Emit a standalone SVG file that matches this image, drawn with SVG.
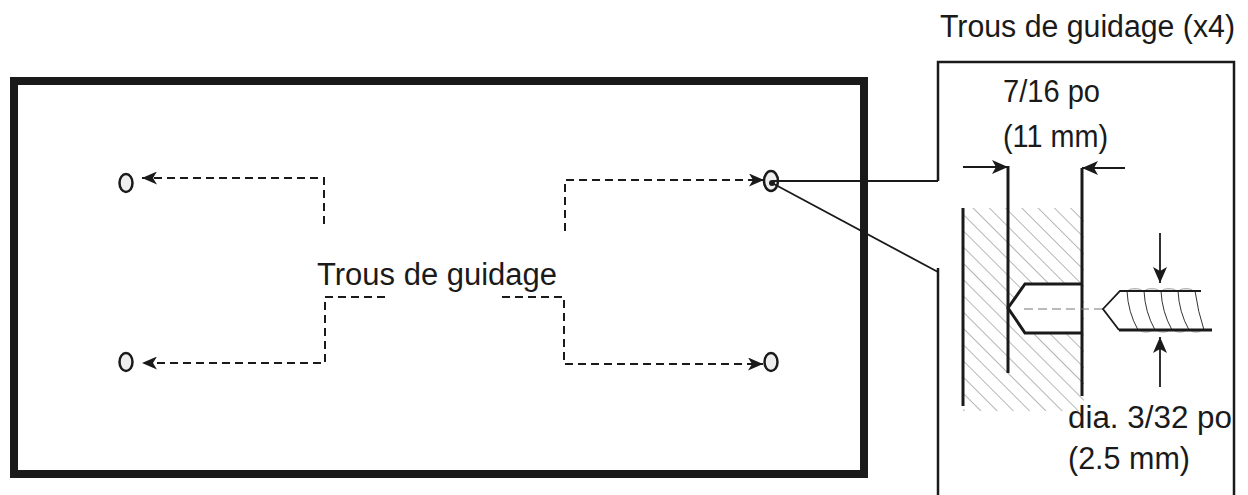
<svg xmlns="http://www.w3.org/2000/svg" width="1248" height="495" viewBox="0 0 1248 495">
<style>
  .txt { font-family: "Liberation Sans", Arial, sans-serif; font-size: 31px; fill: #1a1a1a; }
  .dash { fill: none; stroke: #1a1a1a; stroke-width: 2; stroke-dasharray: 8 5; }
  .hole { fill: #eeeeee; stroke: #1a1a1a; stroke-width: 2.5; }
  .thin { fill: none; stroke: #1a1a1a; stroke-width: 1.8; }
  .panel { fill: none; stroke: #1a1a1a; stroke-width: 2.5; }
  .thick { fill: none; stroke: #1a1a1a; stroke-width: 3; }
  .thread { fill: none; stroke: #333; stroke-width: 1; }
  .bump { fill: #e2e2e2; stroke: #999; stroke-width: 0.7; }
</style>
<defs>
  <marker id="arr" markerUnits="userSpaceOnUse" markerWidth="15" markerHeight="13" viewBox="0 0 15 13" refX="15" refY="6.5" orient="auto">
    <path d="M0,0 L15,6.5 L0,13 L4,6.5 z" fill="#1a1a1a"/>
  </marker>
  <marker id="arrBig" markerUnits="userSpaceOnUse" markerWidth="16" markerHeight="14" viewBox="0 0 16 14" refX="16" refY="7" orient="auto">
    <path d="M0,0 L16,7 L0,14 L4,7 z" fill="#1a1a1a"/>
  </marker>
  <pattern id="hatch" patternUnits="userSpaceOnUse" width="11.5" height="11.5" patternTransform="rotate(-45)">
    <line x1="0" y1="0" x2="0" y2="11.5" stroke="#7a7a7a" stroke-width="1.1"/>
  </pattern>
</defs>

<!-- main board -->
<g id="board">
  <rect x="14" y="81" width="850" height="393" fill="none" stroke="#1a1a1a" stroke-width="8"/>
</g>

<!-- holes -->
<g id="hole-tl"><ellipse class="hole" cx="126" cy="183" rx="6.5" ry="9"/></g>
<g id="hole-bl"><ellipse class="hole" cx="126" cy="362" rx="6.5" ry="9"/></g>
<g id="hole-br"><ellipse class="hole" cx="771" cy="362" rx="6.5" ry="9"/></g>
<g id="hole-tr">
  <ellipse class="hole" cx="771" cy="181" rx="7" ry="10" stroke-width="3"/>
  <circle cx="772" cy="183" r="3" fill="#1a1a1a"/>
</g>

<!-- label -->
<g id="label-center">
  <text class="txt" x="317" y="285" font-size="32" textLength="240" lengthAdjust="spacingAndGlyphs">Trous de guidage</text>
</g>

<!-- connectors -->
<g id="connectors">
  <path class="dash" d="M324,224 V178 H142" marker-end="url(#arr)"/>
  <path class="dash" d="M385,297 H325 V363 H142" marker-end="url(#arr)"/>
  <path class="dash" d="M565,231 V180 H764" marker-end="url(#arr)"/>
  <path class="dash" d="M502,297 H564 V364 H763" marker-end="url(#arr)"/>
  <line class="thin" x1="772" y1="181" x2="938" y2="181"/>
  <line class="thin" x1="772" y1="183" x2="938" y2="272"/>
</g>

<!-- detail panel -->
<g id="detail-title">
  <text class="txt" x="940" y="37" font-size="30" textLength="295" lengthAdjust="spacingAndGlyphs">Trous de guidage (x4)</text>
</g>
<g id="detail-panel">
  <path class="panel" d="M938,181 V62 H1234 V495"/>
  <line class="panel" x1="938" y1="268" x2="938" y2="495"/>
</g>

<g id="wood">
  <rect x="963" y="208" width="121" height="203" fill="url(#hatch)"/>
  <polygon points="1008,308 1025,284 1081,284 1081,333 1025,333" fill="#ffffff"/>
  <line class="thick" x1="963" y1="208" x2="963" y2="406" stroke-width="2.5"/>
  <line class="thick" x1="1008" y1="166" x2="1008" y2="373" stroke-width="2.5"/>
  <line class="thick" x1="1082" y1="168" x2="1082" y2="396" stroke-width="2.8"/>
  <polyline class="thick" points="1081,284 1025,284 1008,308 1025,333 1081,333"/>
  <line x1="1024" y1="309" x2="1103" y2="309" stroke="#777" stroke-width="1.2" stroke-dasharray="9 5"/>
</g>

<g id="screw">
  <path class="bump" d="M1128,291 a7,2.5 0 0 1 14,0 M1145,291 a7,2.5 0 0 1 14,0 M1162,291 a7,2.5 0 0 1 14,0 M1179,291 a7,2.5 0 0 1 14,0"/>
  <path class="bump" d="M1140,330 a6,2.2 0 0 0 12,0 M1157,330 a6,2.2 0 0 0 12,0 M1174,330 a6,2.2 0 0 0 12,0 M1191,330 a5,2.2 0 0 0 10,0"/>
  <path class="thread" d="M1127,291 Q1128,312 1138,330 M1144,291 Q1145,312 1155,330 M1161,291 Q1162,312 1172,330 M1178,291 Q1179,312 1189,330 M1195,291 Q1198,312 1204,330"/>
  <polyline fill="none" stroke="#1a1a1a" stroke-width="1.8" points="1201,291 1120,291 1103,309 1119,330"/>
  <line x1="1119" y1="330" x2="1212" y2="330" stroke="#1a1a1a" stroke-width="2.8"/>
</g>

<g id="dimensions">
  <line class="thin" x1="963" y1="167" x2="1008" y2="167" stroke-width="2.5" marker-end="url(#arrBig)"/>
  <line class="thin" x1="1125" y1="168" x2="1082" y2="168" stroke-width="2.5" marker-end="url(#arrBig)"/>
  <line class="thin" x1="1160" y1="233" x2="1160" y2="283" stroke-width="2.2" marker-end="url(#arrBig)"/>
  <line class="thin" x1="1160" y1="387" x2="1160" y2="337" stroke-width="2.2" marker-end="url(#arrBig)"/>
</g>

<g id="dim-labels">
  <text class="txt" x="1003" y="102" textLength="97" lengthAdjust="spacingAndGlyphs">7/16 po</text>
  <text class="txt" x="1003" y="147" textLength="105" lengthAdjust="spacingAndGlyphs">(11 mm)</text>
  <text class="txt" x="1068" y="428" font-size="30" textLength="164" lengthAdjust="spacingAndGlyphs">dia. 3/32 po</text>
  <text class="txt" x="1068" y="469" font-size="30" textLength="122" lengthAdjust="spacingAndGlyphs">(2.5 mm)</text>
</g>
</svg>
